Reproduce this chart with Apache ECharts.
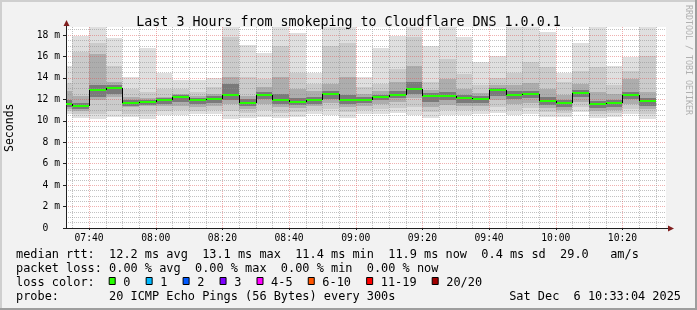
<!DOCTYPE html>
<html><head><meta charset="utf-8">
<script src="https://cdn.jsdelivr.net/npm/echarts@6/dist/echarts.min.js"></script>
<style>html,body{margin:0;padding:0;background:#f2f2f2}#c{width:697px;height:310px}</style>
</head><body><div id="c"></div><script>
// ---- data (ms) ----
const stepEnds = ['07:35','07:40','07:45','07:50','07:55','08:00','08:05','08:10','08:15','08:20','08:25','08:30',
  '08:35','08:40','08:45','08:50','08:55','09:00','09:05','09:10','09:15','09:20','09:25','09:30',
  '09:35','09:40','09:45','09:50','09:55','10:00','10:05','10:10','10:15','10:20','10:25','10:30'];
const median = [11.55,11.35,12.85,13.05,11.65,11.75,11.95,12.2,11.95,12.04,12.41,11.67,
  12.41,11.95,11.76,11.95,12.48,11.98,11.98,12.2,12.45,12.94,12.29,12.29,
  12.1,12.04,12.85,12.38,12.48,11.89,11.64,12.57,11.55,11.67,12.38,11.85];
const maxV = [15.15,17.9,19.0,17.72,14.06,16.76,14.5,13.84,13.84,13.97,19.0,17.07,
  16.32,19.0,18.19,14.5,19.0,19.0,14.06,16.76,17.88,19.0,16.95,19.0,
  17.78,15.52,16.08,19.0,19.0,18.3,14.5,17.25,19.0,15.08,15.92,19.0];
const hi2 = [13.5,16.4,17.3,15.15,12.97,12.66,12.97,12.97,12.66,13.13,17.78,14.06,
  13.9,17.0,14.5,13.44,17.0,17.3,13.13,13.44,14.84,17.78,13.6,15.77,
  14.37,13.3,14.0,14.5,15.5,15.0,13.6,14.68,15.0,13.3,14.68,16.08];
const hi3 = [12.8,12.35,16.2,13.6,12.2,12.1,12.2,12.5,12.3,12.5,14.06,12.3,
  13.13,14.06,12.97,12.82,13.44,14.06,12.5,12.8,13.6,15.15,12.9,13.9,
  13.0,12.6,13.3,13.3,13.5,13.0,12.4,13.44,12.66,12.5,13.9,12.66];
const hi4 = [11.9,11.7,13.3,13.3,11.9,11.95,12.1,12.4,12.15,12.3,13.44,12.04,
  12.7,12.5,12.1,12.2,12.8,12.4,12.2,12.45,12.8,13.6,12.55,12.7,
  12.4,12.3,13.1,12.8,12.8,12.2,11.95,12.9,11.85,11.95,12.7,12.15];
const lo4 = [11.3,11.1,12.2,12.5,11.4,11.5,11.6,11.8,11.6,11.7,11.9,11.4,
  12.0,11.6,11.5,11.6,12.0,11.6,11.7,11.9,12.1,12.5,11.8,11.9,
  11.7,11.7,12.3,12.0,12.1,11.5,11.3,12.2,11.2,11.3,12.0,11.4];
const lo3 = [11.1,10.9,11.9,12.2,11.27,11.42,11.42,11.42,11.27,11.4,11.57,11.1,
  11.6,11.3,11.2,11.35,11.7,11.3,11.4,11.6,11.8,12.1,11.3,11.5,
  11.4,11.4,11.9,11.6,11.7,11.2,11.0,11.8,10.9,11.0,11.6,11.1];
const lo2 = [10.9,10.65,10.65,10.96,10.65,10.65,10.9,11.0,10.9,11.0,10.96,10.7,
  11.0,10.7,10.8,11.0,11.1,10.8,11.0,11.1,11.2,11.3,10.8,11.0,
  11.0,11.0,11.3,11.0,11.2,10.8,10.7,11.3,10.6,10.7,11.1,10.6];
const minV = [10.6,10.3,10.2,10.33,10.33,10.2,10.5,10.5,10.65,10.6,10.18,10.3,
  10.4,10.3,10.4,10.6,10.5,10.3,10.6,10.6,10.7,10.5,10.3,10.5,
  10.5,10.6,10.7,10.5,10.6,10.4,10.4,10.8,10.3,10.4,10.6,10.2];
const xTickLabels = ['07:40','08:00','08:20','08:40','09:00','09:20','09:40','10:00','10:20'];
const yTickLabels = ['0','2 m','4 m','6 m','8 m','10 m','12 m','14 m','16 m','18 m'];
const timeStart = '07:33:04', timeEnd = '10:33:04';
const yTop = 18.75;
const yName = 'Seconds';
const lossLabels = ['0','1','2','3','4-5','6-10','11-19','20/20'];
const lossColors = ['#26ff00','#00b8ff','#0059ff','#7e00ff','#ff00ff','#ff5500','#ff0000','#a10000'];
const legendLines = [
  'median rtt:  12.2 ms avg  13.1 ms max  11.4 ms min  11.9 ms now  0.4 ms sd  29.0   am/s',
  'packet loss: 0.00 % avg  0.00 % max  0.00 % min  0.00 % now',
  'loss color:',
  'probe:       20 ICMP Echo Pings (56 Bytes) every 300s'
];
const dateText = 'Sat Dec  6 10:33:04 2025';
const titleText = 'Last 3 Hours from smokeping to Cloudflare DNS 1.0.0.1';
const smokeColors = ['#dfdfdf','#cbcbcb','#adadad','#7a7a7a'];

// ---- helpers ----
const toMin = s => { const p = s.split(':').map(Number); return p[0]*60 + p[1] + (p[2]||0)/60; };
const xMin = toMin(timeStart), xMax = toMin(timeEnd);
const fmt = v => { const h = Math.floor(v/60), m = Math.round(v - h*60); return String(h).padStart(2,'0')+':'+String(m).padStart(2,'0'); };

const smokeData = stepEnds.map((t,i) => { const e = toMin(t); return [e-5, e, minV[i], maxV[i], lo2[i], hi2[i], lo3[i], hi3[i], lo4[i], hi4[i]]; });
const medData = stepEnds.map((t,i) => { const e = toMin(t); return [e-5, e, median[i], i>0 ? median[i-1] : median[i]]; });

function clipR(x1,y1,x2,y2,cs){
  return echarts.graphic.clipRectByRect({x:Math.round(x1), y:Math.round(y1), width:Math.round(x2)-Math.round(x1), height:Math.round(y2)-Math.round(y1)},
    {x:cs.x, y:cs.y, width:cs.width, height:cs.height});
}
function smokeItem(params, api){
  const cs = params.coordSys, s = api.value(0), e = api.value(1);
  const kids = [];
  for (let b = 0; b < 4; b++){
    const p1 = api.coord([s, api.value(3+2*b)]), p2 = api.coord([e, api.value(2+2*b)]);
    const r = clipR(p1[0],p1[1],p2[0],p2[1],cs);
    if (r) kids.push({type:'rect', shape:r, style:{fill:smokeColors[b]}});
  }
  return {type:'group', children:kids};
}
function medItem(params, api){
  const cs = params.coordSys, s = api.value(0), e = api.value(1);
  const p1 = api.coord([s, api.value(2)]), p2 = api.coord([e, api.value(2)]), pp = api.coord([s, api.value(3)]);
  const x1 = Math.max(Math.round(p1[0]), cs.x), x2 = Math.round(p2[0]);
  const y = Math.round(p1[1]), py = Math.round(pp[1]);
  const kids = [{type:'line', shape:{x1:x1, y1:y, x2:x2, y2:y}, style:{stroke:lossColors[0], lineWidth:2}}];
  if (py !== y) kids.push({type:'line', shape:{x1:x1+0.5, y1:py, x2:x1+0.5, y2:y}, style:{stroke:'#000', lineWidth:1}});
  return {type:'group', children:kids};
}

const mono = 'DejaVu Sans Mono';
const majorGrid = {show:true, lineStyle:{color:'rgba(222,79,79,0.45)', type:[1,1], width:1}, showMinLine:false, showMaxLine:false};
const minorGrid = {show:true, lineStyle:{color:'rgba(143,143,143,0.55)', type:[1,1], width:1}};

const chart = echarts.init(document.getElementById('c'), null, {renderer:'canvas'});
const legendGraphics = [];
legendLines.forEach((t,i) => legendGraphics.push({type:'text', left:16, top: 249 + i*14,
  style:{text:t, font:'11.9px "'+mono+'"', fill:'#000'}}));
let lx = 108.7;
lossLabels.forEach((l,i) => {
  legendGraphics.push({type:'rect', shape:{x:lx+0.5, y:277.5, width:6, height:7}, style:{fill:lossColors[i], stroke:'#000', lineWidth:1}});
  legendGraphics.push({type:'text', x:lx+14.6, y:277, style:{text:l, font:'11.9px "'+mono+'"', fill:'#000'}});
  lx += 29.8 + l.length*7.15;
});
legendGraphics.push({type:'text', x:681, y:291, style:{text:dateText, font:'11.9px "'+mono+'"', fill:'#000', textAlign:'right'}});

chart.setOption({
  backgroundColor:'#f2f2f2',
  animation:false,
  title:{text:titleText, left:'center', top:11, textStyle:{fontFamily:mono, fontSize:13.3, fontWeight:'normal', color:'#000'}},
  grid:{left:66, top:27, width:600, height:201, show:true, backgroundColor:'#fff', borderWidth:0, containLabel:false, outerBoundsMode:'none'},
  xAxis:{type:'value', min:xMin, max:xMax, minInterval:20, maxInterval:20, z:5,
    axisLine:{show:true, lineStyle:{color:'#1f1f1f', width:1}},
    axisTick:{show:true, length:2, lineStyle:{color:'#1f1f1f'}},
    axisLabel:{show:true, showMinLabel:false, showMaxLabel:false, margin:5, fontFamily:mono, fontSize:9.7, color:'#000',
      formatter:v => { const s = fmt(v); return xTickLabels.indexOf(s) >= 0 ? s : ''; }},
    splitLine:majorGrid, minorTick:{show:false, splitNumber:4}, minorSplitLine:minorGrid},
  yAxis:{type:'value', min:0, max:yTop, minInterval:2, maxInterval:2, z:5,
    axisLine:{show:true, lineStyle:{color:'#1f1f1f', width:1}},
    axisTick:{show:true, length:3, lineStyle:{color:'#1f1f1f'}},
    axisLabel:{show:true, showMaxLabel:false, margin:6, fontFamily:mono, fontSize:9.7, color:'#000',
      formatter:v => { const i = Math.round(v/2); return (Math.abs(v - i*2) < 1e-6 && yTickLabels[i]) ? (i===0 ? yTickLabels[0]+'  ' : yTickLabels[i]) : ''; }},
    splitLine:majorGrid, minorTick:{show:false, splitNumber:4}, minorSplitLine:minorGrid},
  series:[
    {type:'custom', name:'smoke', renderItem:smokeItem, data:smokeData, z:2, silent:true, encode:{x:[0,1], y:[2,3]}},
    {type:'custom', name:'median', renderItem:medItem, data:medData, z:8, silent:true, encode:{x:[0,1], y:[2,3]}}
  ],
  graphic:legendGraphics
});

// decorations: frame, arrows, axis name, watermark
const tr = chart.convertToPixel({gridIndex:0}, [xMax, yTop]);
const bl = chart.convertToPixel({gridIndex:0}, [xMin, 0]);
const ax = Math.round(bl[0]) + 0.5, ay = Math.round(bl[1]) + 0.5, rx = Math.round(tr[0]), ty = Math.round(tr[1]);
chart.setOption({graphic: legendGraphics.concat([
  {type:'line', shape:{x1:ax, y1:ty, x2:ax, y2:ty-5}, style:{stroke:'#1f1f1f', lineWidth:1}, z:10},
  {type:'line', shape:{x1:rx, y1:ay, x2:rx+3, y2:ay}, style:{stroke:'#1f1f1f', lineWidth:1}, z:10},
  {type:'polygon', shape:{points:[[ax-3,ty-1],[ax+3,ty-1],[ax,ty-7]]}, style:{fill:'#801f1f'}, z:10},
  {type:'polygon', shape:{points:[[rx+2,ay-3],[rx+2,ay+3],[rx+8,ay]]}, style:{fill:'#801f1f'}, z:10},
  {type:'text', x:10.5, y:(ty+ay)/2, rotation:Math.PI/2, style:{text:yName, font:'11.5px "'+mono+'"', fill:'#000', textAlign:'center', textVerticalAlign:'middle'}, z:10},
  {type:'text', x:688, y:60, rotation:-Math.PI/2, style:{text:'RRDTOOL / TOBI OETIKER', font:'8.3px "'+mono+'"', fill:'#b0b0b0', textAlign:'center', textVerticalAlign:'middle'}, z:10},
  {type:'rect', shape:{x:0, y:0, width:697, height:2}, style:{fill:'#cfcfcf'}, z:10},
  {type:'rect', shape:{x:0, y:0, width:2, height:310}, style:{fill:'#cfcfcf'}, z:10},
  {type:'rect', shape:{x:0, y:308, width:697, height:2}, style:{fill:'#9e9e9e'}, z:10},
  {type:'rect', shape:{x:695, y:0, width:2, height:310}, style:{fill:'#9e9e9e'}, z:10}
])});
</script></body></html>
